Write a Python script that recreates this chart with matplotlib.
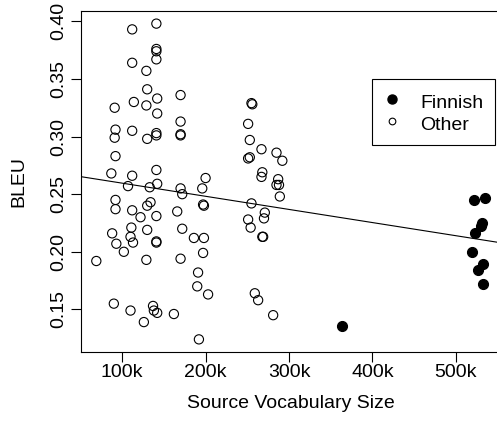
import numpy as np
import matplotlib
matplotlib.use("Agg")
from matplotlib import pyplot as plt
from matplotlib.lines import Line2D

plt.rcParams['font.family'] = ['Liberation Sans', 'DejaVu Sans']

# source vocabulary size (thousands) / BLEU
other_x = [112, 141, 141, 141, 141, 112, 129, 130, 114, 129, 142, 170, 91, 142, 170,
           92, 112, 91, 130, 141, 141, 170, 170, 92, 87, 112, 141, 107, 133, 142,
           170, 172, 92, 92, 112, 130, 134, 122, 141, 166, 88, 111, 110, 113, 130,
           141, 141, 172, 93, 102, 69, 129, 170, 90, 110, 137, 138, 142, 126, 162,
           200, 196, 197, 198, 186, 198, 197, 191, 190, 203, 192,
           255, 256, 251, 253, 267, 251, 253, 285, 292, 268, 267, 287, 285, 288,
           289, 255, 271, 270, 251, 254, 268, 269, 259, 263, 281]
other_y = [0.393, 0.398, 0.376, 0.374, 0.367, 0.364, 0.357, 0.341, 0.330, 0.327, 0.333, 0.336, 0.325, 0.320, 0.313,
           0.306, 0.305, 0.299, 0.298, 0.303, 0.301, 0.302, 0.301, 0.283, 0.268, 0.266, 0.271, 0.257, 0.256, 0.259,
           0.255, 0.250, 0.245, 0.237, 0.236, 0.240, 0.243, 0.230, 0.231, 0.235, 0.216, 0.221, 0.213, 0.208, 0.219,
           0.209, 0.208, 0.220, 0.207, 0.200, 0.192, 0.193, 0.194, 0.155, 0.149, 0.153, 0.149, 0.147, 0.139, 0.146,
           0.264, 0.255, 0.241, 0.240, 0.212, 0.212, 0.199, 0.182, 0.170, 0.163, 0.124,
           0.329, 0.328, 0.311, 0.297, 0.289, 0.281, 0.282, 0.286, 0.279, 0.269, 0.265, 0.263, 0.258, 0.258,
           0.248, 0.242, 0.234, 0.229, 0.228, 0.221, 0.213, 0.213, 0.164, 0.158, 0.145]
finnish_x = [522, 535, 531, 530, 523, 519, 532, 527, 532, 363]
finnish_y = [0.245, 0.247, 0.225, 0.222, 0.216, 0.200, 0.189, 0.184, 0.172, 0.136]

x_ticks = [100, 200, 300, 400, 500]
y_ticks = [0.15, 0.20, 0.25, 0.30, 0.35, 0.40]

all_x = np.array(other_x + finnish_x, dtype=float)
all_y = np.array(other_y + finnish_y)

fig = plt.figure(figsize=(4.97, 4.21), dpi=100)
ax = fig.add_axes([0.1625, 0.1639, 0.8447, 0.81])

ax.scatter(other_x, other_y, s=44, facecolors='none', edgecolors='black', linewidths=0.8, zorder=3)
ax.scatter(finnish_x, finnish_y, s=52, facecolors='black', edgecolors='black', linewidths=0.8, zorder=3)

# least squares line over everything (abline(lm(...)))
slope, icpt = np.polyfit(all_x, all_y, 1)
ax.axline((0, icpt), slope=slope, color='black', lw=0.8)

# R style 4% padding
xr = all_x.max() - all_x.min()
yr = all_y.max() - all_y.min()
ax.set_xlim(all_x.min() - 0.04 * xr, all_x.max() + 0.04 * xr)
ax.set_ylim(all_y.min() - 0.04 * yr, all_y.max() + 0.04 * yr)

ax.set_xticks(x_ticks)
ax.set_xticklabels(['%dk' % v for v in x_ticks])
ax.set_yticks(y_ticks)
ax.set_yticklabels(['%.2f' % v for v in y_ticks], rotation=90, va='center')
ax.tick_params(direction='out', length=7, width=0.8, labelsize=14)
ax.tick_params(axis='x', pad=2)
ax.tick_params(axis='y', pad=3)
ax.spines['right'].set_visible(False)
for s in ['left', 'top', 'bottom']:
    ax.spines[s].set_linewidth(0.8)

ax.set_xlabel('Source Vocabulary Size', fontsize=14)
ax.set_ylabel('BLEU', fontsize=14)
ax.xaxis.set_label_coords(0.5, -0.125)
ax.yaxis.set_label_coords(-0.128, 0.5)

handles = [Line2D([], [], marker='o', ls='none', color='black', markersize=6.5),
           Line2D([], [], marker='o', ls='none', markerfacecolor='none',
                  markeredgecolor='black', markeredgewidth=0.8, markersize=4.8)]
leg = ax.legend(handles, ['Finnish', 'Other'], loc='upper left',
                bbox_to_anchor=(372.3 / 497, 1 - 79 / 421), bbox_transform=fig.transFigure,
                fontsize=14, fancybox=False, framealpha=1, edgecolor='black',
                borderpad=0.6, labelspacing=0.0, handleheight=1.33,
                handlelength=0.8, handletextpad=1.06, borderaxespad=0)
leg.get_frame().set_linewidth(0.8)

fig.savefig('out.png', dpi=100)
